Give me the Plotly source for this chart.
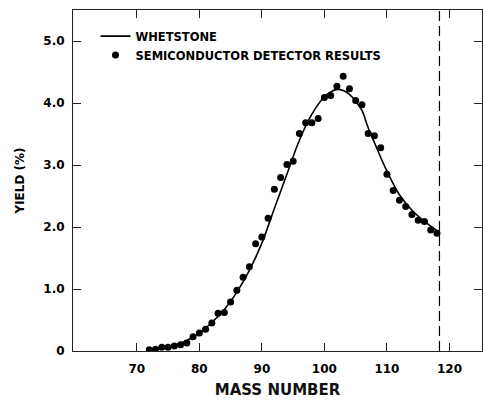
import plotly.graph_objects as go

# Semiconductor detector results (mass number, yield %)
det_mass = [72, 73, 74, 75, 76, 77, 78, 79, 80, 81, 82, 83, 84, 85, 86, 87, 88,
            89, 90, 91, 92, 93, 94, 95, 96, 97, 98, 99, 100, 101, 102, 103, 104,
            105, 106, 107, 108, 109, 110, 111, 112, 113, 114, 115, 116, 117, 118]
det_yield = [0.02, 0.03, 0.06, 0.06, 0.08, 0.10, 0.13, 0.23, 0.29, 0.35, 0.45,
             0.61, 0.62, 0.79, 0.98, 1.19, 1.36, 1.73, 1.84, 2.14, 2.61, 2.80,
             3.01, 3.06, 3.51, 3.68, 3.68, 3.75, 4.09, 4.12, 4.27, 4.43, 4.23,
             4.04, 3.97, 3.51, 3.47, 3.28, 2.85, 2.59, 2.43, 2.33, 2.20, 2.11,
             2.09, 1.95, 1.90]

# Whetstone curve
whet_mass = [72, 74, 76, 78, 80, 82, 84, 86, 88, 90, 92, 94, 96, 98, 100, 101,
             102, 103, 104, 105, 106, 107, 108, 110, 112, 114, 116, 118]
whet_yield = [0.02, 0.05, 0.09, 0.17, 0.29, 0.46, 0.67, 0.95, 1.30, 1.74, 2.30,
              2.85, 3.40, 3.82, 4.10, 4.18, 4.22, 4.20, 4.14, 4.03, 3.88, 3.60,
              3.36, 2.90, 2.52, 2.27, 2.09, 1.94]

x_ticks = [70, 80, 90, 100, 110, 120]
y_ticks = [0, 1, 2, 3, 4, 5]
y_tick_text = ["0", "1.0", "2.0", "3.0", "4.0", "5.0"]
cutoff_mass = 118.4

FONT = "DejaVu Sans"

fig = go.Figure()
fig.add_trace(go.Scatter(
    x=whet_mass, y=whet_yield, mode="lines", name="WHETSTONE",
    line=dict(color="black", width=1.6, shape="spline", smoothing=1.0),
))
fig.add_trace(go.Scatter(
    x=det_mass, y=det_yield, mode="markers", name="SEMICONDUCTOR DETECTOR RESULTS",
    marker=dict(color="black", size=7),
))

fig.add_shape(type="line", xref="x", yref="paper", x0=cutoff_mass, x1=cutoff_mass,
              y0=0, y1=1, line=dict(color="black", width=1.2, dash="10px,5px"))

axis_common = dict(
    showline=True, linecolor="#222", linewidth=1, mirror="ticks",
    ticks="inside", ticklen=8, tickcolor="#222", tickwidth=1,
    showgrid=False, zeroline=False,
    tickfont=dict(family=FONT, size=12, color="black", weight="bold"),
)

fig.update_xaxes(range=[59.8, 125.2], tickvals=x_ticks, ticklabelstandoff=7,
                 title=dict(text="MASS NUMBER",
                            font=dict(family=FONT, size=15, color="#111", weight="bold"),
                            standoff=9),
                 **axis_common)
fig.update_yaxes(range=[0, 5.5], tickvals=y_ticks, ticktext=y_tick_text,
                 ticklabelstandoff=5,
                 title=dict(text="YIELD (%)",
                            font=dict(family=FONT, size=12, color="black", weight="bold"),
                            standoff=16),
                 **axis_common)

fig.update_layout(
    width=483, height=400,
    margin=dict(l=73, r=1, t=10, b=49),
    paper_bgcolor="white", plot_bgcolor="white",
    showlegend=True,
    legend=dict(x=0.055, y=0.966, xanchor="left", yanchor="top",
                bgcolor="rgba(0,0,0,0)",
                font=dict(family=FONT, size=11.5, color="black", weight="bold"),
                tracegroupgap=0, itemwidth=30),
)

fig.write_html("out.html")
